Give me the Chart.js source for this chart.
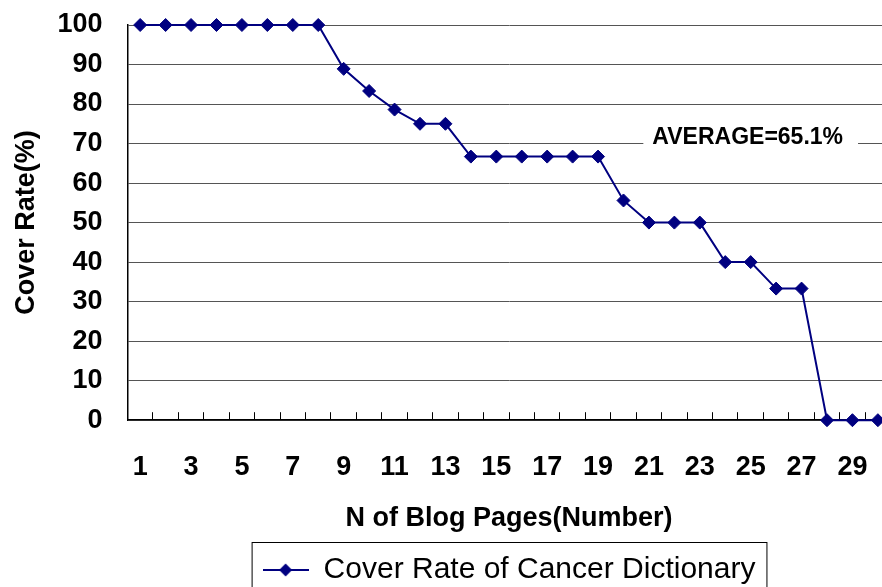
<!DOCTYPE html>
<html>
<head>
<meta charset="utf-8">
<title>Cover Rate of Cancer Dictionary</title>
<script src="https://cdn.jsdelivr.net/npm/chart.js@4.4.1/dist/chart.umd.min.js"></script>
<style>
    html, body {
        margin: 0;
        padding: 0;
        background: #ffffff;
        overflow: hidden;
    }
    #cover-chart {
        display: block;
    }
</style>
</head>
<body>
<canvas id="cover-chart" width="917" height="595"></canvas>
<script>
// Blog page numbers (x categories)
const pageLabels = ['1', '2', '3', '4', '5', '6', '7', '8', '9', '10',
    '11', '12', '13', '14', '15', '16', '17', '18', '19', '20',
    '21', '22', '23', '24', '25', '26', '27', '28', '29', '30'];

// Cover rate (%) per number of blog pages
const coverRates = [100, 100, 100, 100, 100, 100, 100, 100, 88.9, 83.3,
    78.6, 75, 75, 66.7, 66.7, 66.7, 66.7, 66.7, 66.7, 55.6,
    50, 50, 50, 40, 40, 33.3, 33.3, 0, 0, 0];

const seriesName = 'Cover Rate of Cancer Dictionary';
const averageText = 'AVERAGE=65.1%';
const averageAnchor = { page: '25', value: 70 };

const navy = '#000080';
const fontName = '"Liberation Sans", Arial, sans-serif';

let coverChart;

// Small picture for the legend: line with a diamond in the middle
function makeLegendMarker() {
    const c = document.createElement('canvas');
    c.width = 46;
    c.height = 16;
    const g = c.getContext('2d');
    g.strokeStyle = navy;
    g.lineWidth = 2;
    g.beginPath();
    g.moveTo(0, 8);
    g.lineTo(46, 8);
    g.stroke();
    g.fillStyle = navy;
    g.beginPath();
    g.moveTo(23, 1.5);
    g.lineTo(29.5, 8);
    g.lineTo(23, 14.5);
    g.lineTo(16.5, 8);
    g.closePath();
    g.fill();
    return c;
}

// Writes the average text over the 70% grid line
const averagePlugin = {
    id: 'averageLabel',
    beforeDatasetsDraw(chart) {
        const ctx = chart.ctx;
        const x = chart.scales.x.getPixelForValue(pageLabels.indexOf(averageAnchor.page));
        const y = chart.scales.y.getPixelForValue(averageAnchor.value);
        ctx.save();
        ctx.font = 'bold 23px ' + fontName;
        const w = ctx.measureText(averageText).width;
        ctx.fillStyle = '#ffffff';
        ctx.fillRect(x - w / 2 - 12, y - 16, w + 24, 24);
        ctx.fillStyle = '#000000';
        ctx.textAlign = 'center';
        ctx.textBaseline = 'middle';
        ctx.fillText(averageText, x - 3, y - 6);
        ctx.restore();
    }
};

// Frame around the legend
const legendBoxPlugin = {
    id: 'legendBox',
    afterDraw(chart) {
        const boxes = chart.legend && chart.legend.legendHitBoxes;
        if (!boxes || !boxes.length) return;
        const hb = boxes[0];
        const ctx = chart.ctx;
        const cy = hb.top + hb.height / 2;
        ctx.save();
        ctx.strokeStyle = '#000000';
        ctx.lineWidth = 1;
        ctx.strokeRect(hb.left - 10.5, cy - 27.5, hb.width + 22, 56);
        ctx.restore();
    }
};

function initializeChart() {
    const ctx = document.getElementById('cover-chart').getContext('2d');
    coverChart = new Chart(ctx, {
        type: 'line',
        data: {
            labels: pageLabels,
            datasets: [{
                label: seriesName,
                data: coverRates,
                borderColor: navy,
                backgroundColor: navy,
                borderWidth: 2,
                pointStyle: 'rectRot',
                pointRadius: 6.5,
                pointBackgroundColor: navy,
                pointBorderColor: navy,
                pointBorderWidth: 1,
                tension: 0,
                fill: false,
                clip: false
            }]
        },
        options: {
            responsive: false,
            animation: false,
            devicePixelRatio: 1,
            layout: {
                padding: { top: 25, left: 0, right: 0, bottom: 0 }
            },
            scales: {
                x: {
                    offset: true,
                    grid: {
                        display: true,
                        offset: true,
                        drawOnChartArea: false,
                        drawTicks: true,
                        tickLength: -8,
                        color: '#000000'
                    },
                    border: { color: '#000000', width: 1.5 },
                    ticks: {
                        autoSkip: false,
                        maxRotation: 0,
                        padding: 39,
                        color: '#000000',
                        font: { family: fontName, size: 27, weight: 'bold' },
                        callback: function(value, index) {
                            return index % 2 === 0 ? pageLabels[index] : '';
                        }
                    },
                    title: {
                        display: true,
                        text: 'N of Blog Pages(Number)',
                        color: '#000000',
                        font: { family: fontName, size: 27, weight: 'bold' },
                        padding: { top: -20, bottom: 10 }
                    }
                },
                y: {
                    min: 0,
                    max: 100,
                    // keep the tick padding from pushing the plot down
                    afterFit: function(scale) {
                        scale.paddingTop = 0;
                        scale.paddingBottom = 0;
                    },
                    grid: {
                        color: '#555555',
                        drawTicks: false
                    },
                    border: { color: '#000000', width: 1.5 },
                    ticks: {
                        autoSkip: false,
                        stepSize: 10,
                        padding: 25,
                        color: '#000000',
                        font: { family: fontName, size: 27, weight: 'bold' }
                    },
                    title: {
                        display: true,
                        text: 'Cover Rate(%)',
                        color: '#000000',
                        font: { family: fontName, size: 27, weight: 'bold' },
                        padding: { top: 10, bottom: -10 }
                    }
                }
            },
            plugins: {
                legend: {
                    display: true,
                    position: 'bottom',
                    fullSize: false,
                    labels: {
                        usePointStyle: true,
                        pointStyle: makeLegendMarker(),
                        pointStyleWidth: 46,
                        color: '#000000',
                        font: { family: fontName, size: 30 }
                    }
                },
                tooltip: { enabled: false }
            }
        },
        plugins: [averagePlugin, legendBoxPlugin]
    });
}

window.onload = function() {
    initializeChart();
};
</script>
</body>
</html>
